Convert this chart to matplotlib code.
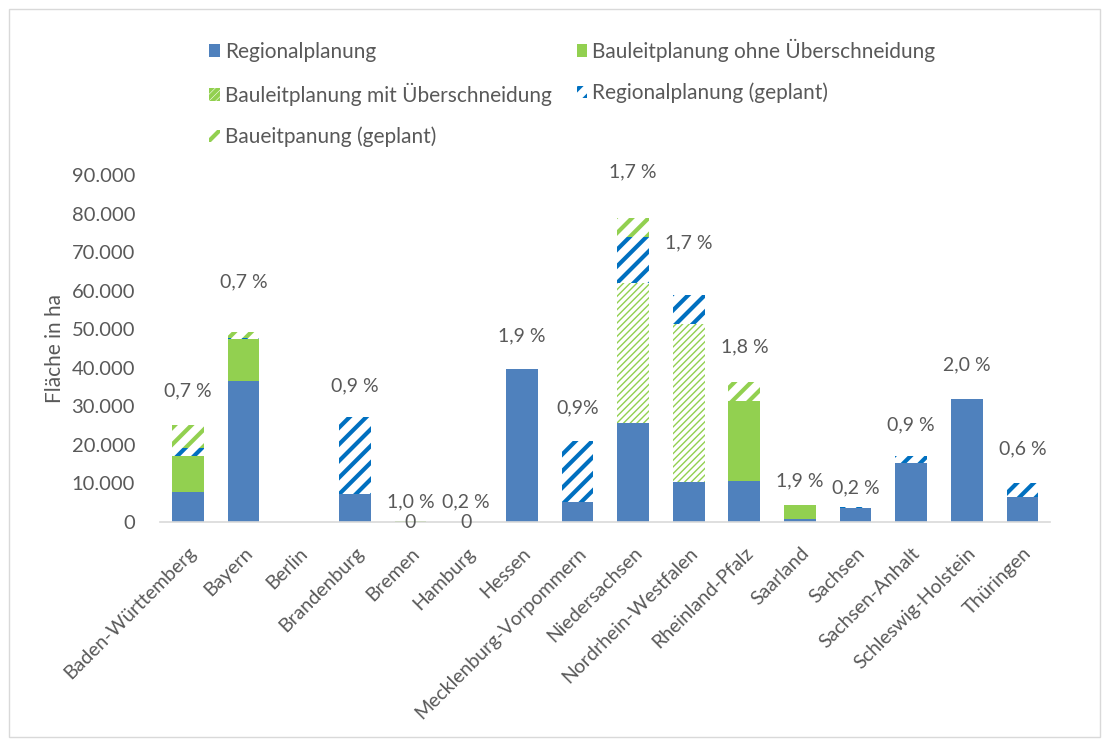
import matplotlib
matplotlib.use("Agg")
import matplotlib.pyplot as plt
import numpy as np
from matplotlib.patches import Rectangle

plt.rcParams['font.family'] = ['Lato', 'DejaVu Sans']

# data (Fläche in ha)
laender = ["Baden-Württemberg", "Bayern", "Berlin", "Brandenburg", "Bremen", "Hamburg",
           "Hessen", "Mecklenburg-Vorpommern", "Niedersachsen", "Nordrhein-Westfalen",
           "Rheinland-Pfalz", "Saarland", "Sachsen", "Sachsen-Anhalt", "Schleswig-Holstein",
           "Thüringen"]
regional = [7800, 36500, 0, 7300, 0, 0, 39600, 5200, 25600, 10400, 10600, 700, 3600, 15300, 31900, 6500]
bauleit_ohne = [9300, 10900, 0, 0, 300, 0, 0, 0, 0, 0, 20700, 3700, 0, 0, 0, 0]
bauleit_mit = [0, 0, 0, 0, 0, 0, 0, 0, 36300, 40900, 0, 0, 0, 0, 0, 0]
regional_geplant = [2100, 300, 0, 19900, 0, 0, 0, 15800, 11900, 7500, 0, 0, 300, 1800, 0, 3600]
bauleit_geplant = [5900, 1500, 0, 0, 0, 0, 0, 0, 5000, 0, 5000, 0, 0, 0, 0, 0]
anteil = ["0,7 %", "0,7 %", "", "0,9 %", "1,0 %", "0,2 %", "1,9 %", "0,9%", "1,7 %", "1,7 %",
          "1,8 %", "1,9 %", "0,2 %", "0,9 %", "2,0 %", "0,6 %"]
null_labels = ["", "", "", "", "0", "0", "", "", "", "", "", "", "", "", "", ""]

# gap between bar top and the percent label (layout only)
label_gap = [8800, 13000, 0, 8000, 5000, 5200, 8800, 8500, 11900, 13500, 9000, 6200, 4900, 8000, 8800, 8800]

blue = "#4F81BD"
green = "#92D050"
hatch_blue = "#0070C0"
grey = "#595959"

fig = plt.figure(figsize=(11.08, 7.43), dpi=100)
ax = fig.add_axes([0.1445, 0.2974, 0.8035, 0.4671])

x = np.arange(len(laender))
w = 0.57
bottom = np.zeros(len(laender))

def add_bar(vals, hatch=None, col=None, hlw=1.0, label=None):
    global bottom
    plt.rcParams['hatch.linewidth'] = hlw
    if hatch is None:
        bars = ax.bar(x, vals, w, bottom=bottom, color=col, linewidth=0, label=label)
    else:
        bars = ax.bar(x, vals, w, bottom=bottom, facecolor="white", edgecolor=col,
                      hatch=hatch, linewidth=0, label=label)
        for b in bars:
            if hasattr(b, "set_hatch_linewidth"):
                b.set_hatch_linewidth(hlw)
    bottom = bottom + np.array(vals)
    return bars

b1 = add_bar(regional, col=blue, label="Regionalplanung")
b2 = add_bar(bauleit_ohne, col=green, label="Bauleitplanung ohne Überschneidung")
b3 = add_bar(bauleit_mit, hatch="/////", col=green, hlw=1.0, label="Bauleitplanung mit Überschneidung")
b4 = add_bar(regional_geplant, hatch="//", col=hatch_blue, hlw=3.0, label="Regionalplanung (geplant)")
b5 = add_bar(bauleit_geplant, hatch="//", col=green, hlw=3.0, label="Baueitpanung (geplant)")

# percent labels above the bars
for i in range(len(laender)):
    if anteil[i]:
        ax.text(x[i], bottom[i] + label_gap[i], anteil[i], ha="center", va="center",
                fontsize=14, color=grey)
    if null_labels[i]:
        ax.text(x[i], 0, null_labels[i], ha="center", va="center", fontsize=14, color=grey)

ax.set_xlim(-0.5, len(laender) - 0.5)
ax.set_ylim(0, 90000)
ax.set_yticks(np.arange(0, 90001, 10000))
ax.set_yticklabels(["{:,}".format(v).replace(",", ".") for v in range(0, 90001, 10000)])
ax.tick_params(axis="y", length=0, labelsize=14.5, labelcolor=grey, pad=18)
ax.tick_params(axis="x", length=0, labelsize=14, labelcolor=grey, pad=16)
ax.set_xticks(x)
ax.set_xticklabels(laender, rotation=45, ha="right", rotation_mode="anchor")
ax.set_ylabel("Fläche in ha", fontsize=15, color=grey, labelpad=5)

for s in ["top", "right", "left"]:
    ax.spines[s].set_visible(False)
ax.spines["bottom"].set_color("#D9D9D9")
ax.spines["bottom"].set_linewidth(1.2)

handles = [b1, b3, b5, b2, b4]
fig.legend(handles, [h.get_label() for h in handles], ncol=2, frameon=False,
           loc="upper left", bbox_to_anchor=(0.172, 0.973), fontsize=15,
           labelcolor=grey, handlelength=0.5, handleheight=0.55, handletextpad=0.25,
           labelspacing=1.0, columnspacing=1.2)

# light frame around the chart
fig.patches.append(Rectangle((0.008, 0.008), 0.985, 0.98, transform=fig.transFigure,
                             fill=False, edgecolor="#D9D9D9", linewidth=1))

fig.savefig("out.png", dpi=100)
